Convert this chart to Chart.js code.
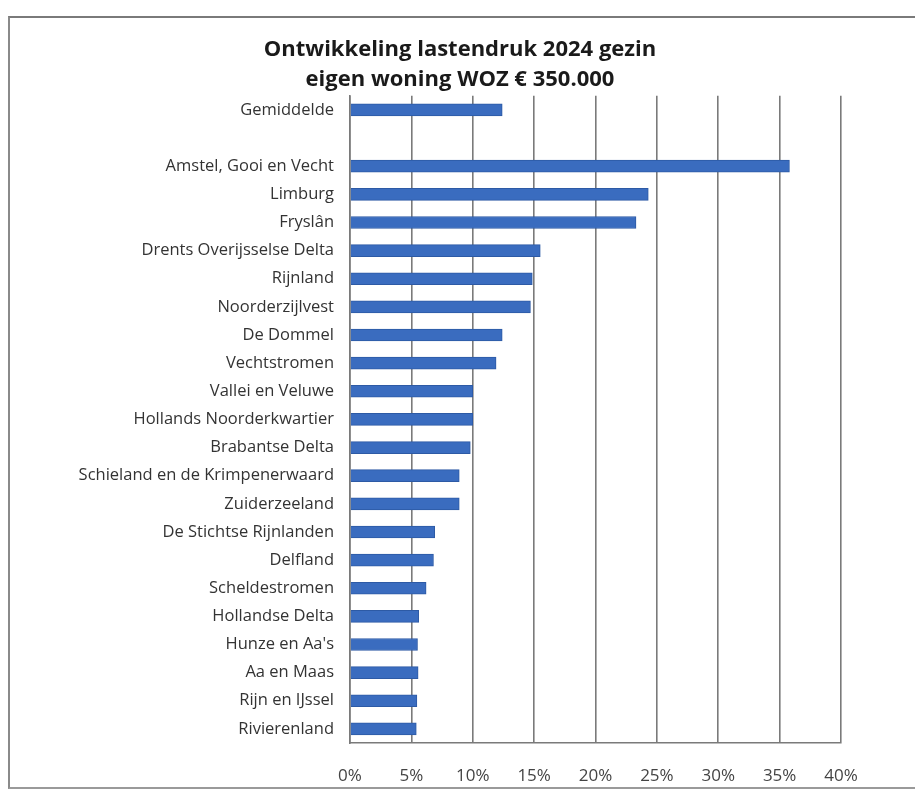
<!DOCTYPE html>
<html>
<head>
<meta charset="utf-8">
<script src="https://cdn.jsdelivr.net/npm/chart.js@4"></script>
<style>
  html, body { margin: 0; padding: 0; background: #fff; }
  #frame {
    position: absolute; left: 8px; top: 16px; width: 930px; height: 769px;
    border-top: 2px solid #7a7a7a; border-left: 2px solid #8a8a8a; border-bottom: 2px solid #9a9a9a;
  }
  #wrap { position: absolute; left: 0; top: 0; width: 915px; height: 790px; }
</style>
</head>
<body>
<div id="frame"></div>
<div id="wrap"><canvas id="chart" width="915" height="790"></canvas></div>
<script>
// Waterschappen, lastenstijging 2024 (in %)
const titleLines = ['Ontwikkeling lastendruk 2024 gezin', 'eigen woning WOZ € 350.000'];
const categories = [
  'Gemiddelde', '',
  'Amstel, Gooi en Vecht', 'Limburg', 'Fryslân', 'Drents Overijsselse Delta',
  'Rijnland', 'Noorderzijlvest', 'De Dommel', 'Vechtstromen', 'Vallei en Veluwe',
  'Hollands Noorderkwartier', 'Brabantse Delta', 'Schieland en de Krimpenerwaard',
  'Zuiderzeeland', 'De Stichtse Rijnlanden', 'Delfland', 'Scheldestromen',
  'Hollandse Delta', 'Hunze en Aa\'s', 'Aa en Maas', 'Rijn en IJssel', 'Rivierenland'
];
const values = [
  12.4, null,
  35.8, 24.3, 23.3, 15.5,
  14.85, 14.7, 12.4, 11.9, 10.0,
  10.0, 9.8, 8.9,
  8.9, 6.9, 6.8, 6.2,
  5.6, 5.5, 5.55, 5.45, 5.4
];
const xTicks = [0, 5, 10, 15, 20, 25, 30, 35, 40];

const ctx = document.getElementById('chart').getContext('2d');
const myChart = new Chart(ctx, {
  type: 'bar',
  data: {
    labels: categories,
    datasets: [{
      data: values,
      backgroundColor: '#3a6cbf',
      borderColor: '#2d5aa5',
      borderWidth: 1,
      barThickness: 12
    }]
  },
  options: {
    indexAxis: 'y',
    responsive: false,
    animation: false,
    // links/rechts ongelijk zodat de titel boven het hele kader centreert
    layout: { padding: { top: 0, right: 74, bottom: 0, left: 79 } },
    plugins: {
      legend: { display: false },
      tooltip: { enabled: false },
      title: {
        display: true,
        text: titleLines,
        color: '#1a1a1a',
        font: { family: 'Open Sans', size: 22, weight: 'bold', lineHeight: 1.36 },
        padding: { top: 35, bottom: 1 }
      }
    },
    scales: {
      x: {
        min: 0,
        max: 40,
        afterBuildTicks: axis => { axis.ticks = xTicks.map(v => ({ value: v })); },
        afterFit: axis => { axis.height = 47; },
        ticks: {
          callback: v => v + '%',
          color: '#444',
          font: { family: 'Open Sans', size: 17 },
          padding: 23
        },
        grid: { color: '#7a7a7a', lineWidth: 1.6, drawTicks: false },
        border: { color: '#7a7a7a', width: 1.6 }
      },
      y: {
        afterFit: axis => { axis.width = 271; },
        ticks: {
          color: '#333',
          font: { family: 'Open Sans', size: 16.5 },
          padding: 16,
          autoSkip: false
        },
        grid: { display: false, drawTicks: false },
        border: { color: '#7a7a7a', width: 1.6 }
      }
    }
  }
});
</script>
</body>
</html>
